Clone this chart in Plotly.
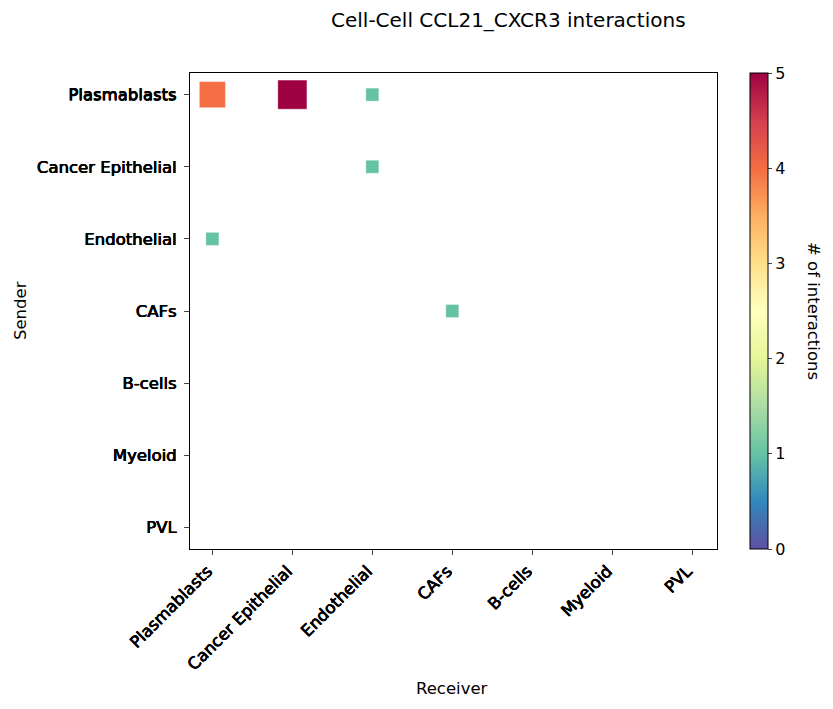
import numpy as np
import plotly.graph_objects as go

cell_types = ["Plasmablasts", "Cancer Epithelial", "Endothelial", "CAFs", "B-cells", "Myeloid", "PVL"]
senders = ["Plasmablasts", "Plasmablasts", "Plasmablasts", "Cancer Epithelial", "Endothelial", "CAFs"]
receivers = ["Plasmablasts", "Cancer Epithelial", "Endothelial", "Endothelial", "Plasmablasts", "CAFs"]
counts = [4, 5, 1, 1, 1, 1]

spectral_r = ['#5e4fa2', '#3288bd', '#66c2a5', '#abdda4', '#e6f598', '#ffffbf',
              '#fee08b', '#fdae61', '#f46d43', '#d53e4f', '#9e0142']
cscale = [[i / (len(spectral_r) - 1), c] for i, c in enumerate(spectral_r)]

xi = [cell_types.index(r) for r in receivers]
yi = [cell_types.index(s) for s in senders]
sizes = [13 * np.sqrt(c) for c in counts]

font = "DejaVu Sans"
L, R, T, B = 190, 717, 73, 549
W, H = 833, 709
pw, ph = R - L, B - T
bold_shadow = "0.35px 0 0 black, -0.35px 0 0 black, 0 0.35px 0 black"

fig = go.Figure()
fig.add_trace(go.Scatter(
    x=xi, y=yi, mode="markers",
    marker=dict(symbol="square", size=sizes, color=counts, colorscale=cscale, opacity=1,
                cmin=0, cmax=5, line=dict(width=0.6, color="rgba(255,255,255,0.5)"),
                colorbar=dict(x=(750 - L) / pw, xanchor="left", y=0.5, yanchor="middle",
                              len=1, lenmode="fraction", thickness=18, xpad=0, ypad=0,
                              tickvals=[0, 1, 2, 3, 4, 5], ticks="outside", ticklen=4,
                              outlinewidth=1, outlinecolor="black",
                              tickfont=dict(family=font, size=16, color="black"))),
    showlegend=False, hoverinfo="skip"))

fig.update_layout(
    width=W, height=H,
    margin=dict(l=L, r=W - R, t=T, b=H - B),
    plot_bgcolor="white", paper_bgcolor="white",
    font=dict(family=font, size=16, color="black"),
    xaxis=dict(range=[-0.28, 6.31], tickvals=list(range(len(cell_types))), ticktext=cell_types,
               tickangle=-45, ticks="outside", ticklen=5, showgrid=False, zeroline=False,
               showline=True, linecolor="black", mirror=True, linewidth=1,
               ticklabelshift=-5,
               tickfont=dict(family=font, size=16.5, color="black", shadow=bold_shadow)),
    yaxis=dict(range=[6.3, -0.3], tickvals=list(range(len(cell_types))), ticktext=cell_types,
               ticks="outside", ticklen=5, showgrid=False, zeroline=False,
               showline=True, linecolor="black", mirror=True, linewidth=1,
               ticklabelstandoff=4,
               tickfont=dict(family=font, size=16.5, color="black", shadow=bold_shadow)),
    annotations=[
        dict(text="Cell-Cell CCL21_CXCR3 interactions", xref="paper", yref="paper",
             x=(508 - L) / pw, y=(B - 20) / ph, xanchor="center", yanchor="middle",
             showarrow=False, font=dict(family=font, size=20, color="black")),
        dict(text="# of interactions", xref="paper", yref="paper",
             x=(814 - L) / pw, y=(B - 311) / ph, xanchor="center", yanchor="middle", textangle=90,
             showarrow=False, font=dict(family=font, size=16.5, color="black")),
        dict(text="Sender", xref="paper", yref="paper",
             x=(20 - L) / pw, y=(B - 311) / ph, xanchor="center", yanchor="middle", textangle=-90,
             showarrow=False, font=dict(family=font, size=16.5, color="black")),
        dict(text="Receiver", xref="paper", yref="paper",
             x=(452 - L) / pw, y=(B - 688) / ph, xanchor="center", yanchor="middle",
             showarrow=False, font=dict(family=font, size=16.5, color="black")),
    ],
)

fig.write_html("out.html")
